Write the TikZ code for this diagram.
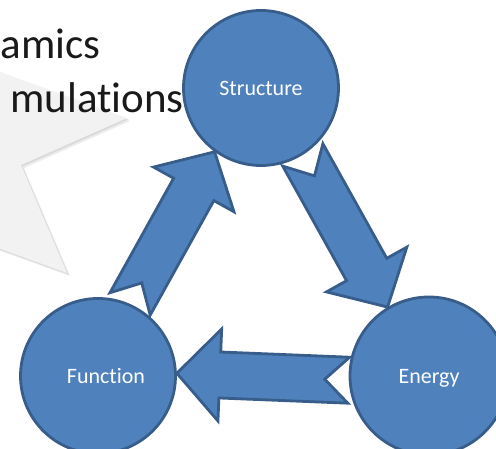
\documentclass[tikz,border=0pt]{standalone}
\usepackage{fontspec}
\setmainfont{Carlito}[Ligatures=NoCommon]
\usetikzlibrary{calc}
\definecolor{cfill}{RGB}{79,129,189}
\definecolor{cline}{RGB}{56,93,138}
\definecolor{bubble}{RGB}{242,242,242}
\definecolor{bshadow}{RGB}{200,200,200}
\tikzset{
  bluecirc/.style={circle, draw=cline, fill=cfill, line width=2.8pt, minimum size=155pt, inner sep=0pt},
  lbl/.style={text=white, font=\fontsize{22}{26}\selectfont},
  barrow/.style={draw=cline, fill=cfill, line width=2.8pt, line join=miter},
  bigtext/.style={text=black!90, font=\fontsize{43}{52}\selectfont, inner sep=0pt}
}
\newcommand{\blockarrow}[2]{%
  \coordinate (h) at ($(#2)!43pt!(#1)$);
  \coordinate (n) at ($(#1)!24pt!(#2)$);
  \draw[barrow] ($(#1)!23pt!90:(#2)$) -- ($(h)!23pt!90:(#2)$) -- ($(h)!46pt!90:(#2)$) -- (#2)
    -- ($(h)!46pt!-90:(#2)$) -- ($(h)!23pt!-90:(#2)$) -- ($(#1)!23pt!-90:(#2)$) -- (n) -- cycle;
}
\begin{document}
\begin{tikzpicture}[x=1pt,y=1pt]
\useasboundingbox (0,0) rectangle (496,449);
% callout shape (partly outside the picture)
\fill[bshadow, opacity=0.35, shift={(3,-3)}] (-5,379) -- (127,331) -- (21,284) -- (67,176) -- (-5,202) -- cycle;
\fill[bshadow, opacity=0.5, shift={(1.5,-1.5)}] (-5,379) -- (127,331) -- (21,284) -- (67,176) -- (-5,202) -- cycle;
\fill[bubble] (-5,379) -- (127,331) -- (21,284) -- (67,176) -- (-5,202) -- cycle;
\node[bigtext, anchor=base west] (t1) at (0.5,390) {amics};
\node[bigtext, anchor=base east] (t2) at (184,336) {mulations};
% circles
\node[bluecirc, label={[lbl]center:Structure}] (struct) at (261,361) {};
\node[bluecirc, label={[lbl,xshift=8pt]center:Function}] (func) at (98,73) {};
\node[bluecirc, minimum size=158pt, label={[lbl,yshift=-2pt]center:Energy}] (energy) at (429,73) {};
% block arrows
\blockarrow{func.66}{struct.234}
\blockarrow{struct.302}{energy.121}
\blockarrow{energy.183}{func.2}
\end{tikzpicture}
\end{document}
